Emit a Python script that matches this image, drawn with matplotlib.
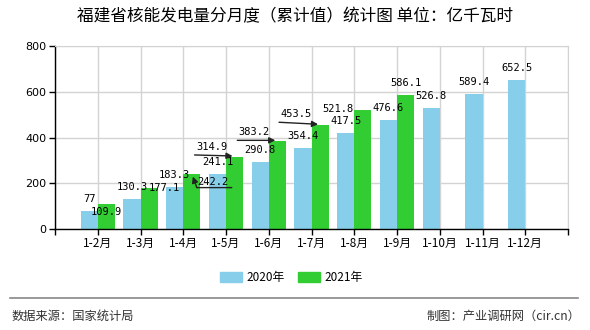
import matplotlib
matplotlib.use("Agg")
import matplotlib.pyplot as plt
from matplotlib.transforms import offset_copy
from matplotlib.patches import Rectangle
from matplotlib.lines import Line2D

plt.rcParams['font.family'] = ['Noto Sans CJK SC', 'DejaVu Sans']

categories = ["1-2月", "1-3月", "1-4月", "1-5月", "1-6月", "1-7月",
              "1-8月", "1-9月", "1-10月", "1-11月", "1-12月"]
values_2020 = [77, 130.3, 183.3, 241.1, 290.8, 354.4, 417.5, 476.6, 526.8, 589.4, 652.5]
values_2021 = [109.9, 177.1, 242.2, 314.9, 383.2, 453.5, 521.8, 586.1]
series_names = ["2020年", "2021年"]
y_ticks = [0, 200, 400, 600, 800]

c2020 = "#87CEEB"
c2021 = "#32CD32"

fig = plt.figure(figsize=(5.9, 3.3), dpi=100)
ax = fig.add_axes([55 / 590, 1 - 229 / 330, (568 - 55) / 590, (229 - 46) / 330])

pos20 = list(range(1, len(values_2020) + 1))
pos21 = list(range(1, len(values_2021) + 1))
w = 0.4
# 2020 on the left half, 2021 on the right half of each tick
ax.bar([p - w for p in pos20], values_2020, width=w, align='edge', color=c2020, zorder=2)
ax.bar(pos21, values_2021, width=w, align='edge', color=c2021, zorder=2)

ax.set_xlim(0, 12)
ax.set_ylim(0, 800)
ax.set_yticks(y_ticks)
ax.set_yticklabels([str(v) for v in y_ticks], fontsize=8, family='DejaVu Sans')
ax.set_xticks(range(0, 13))
ax.set_xticklabels([""] + categories + [""], fontsize=8.5)
ax.grid(True, color="#d3d3d3", lw=1, zorder=0)
ax.set_axisbelow(True)
for s in ["top", "right"]:
    ax.spines[s].set_color("#d3d3d3")
for s in ["left", "bottom"]:
    ax.spines[s].set_color("black")
    ax.spines[s].set_linewidth(1)
ax.tick_params(axis='both', length=4, width=1, color='black', pad=2)

numfont = dict(family='DejaVu Sans Mono', fontsize=7.5, color='black')

def fmt(v):
    return ("%g" % v)

def place(x, y, dx, dy, txt):
    t = offset_copy(ax.transData, fig=fig, x=dx, y=dy, units='dots')
    ax.text(x, y, txt, transform=t, ha='center', va='center', zorder=5, **numfont)

def seg(x, y, p0, p1, arrow=False):
    t0 = offset_copy(ax.transData, fig=fig, x=p0[0], y=p0[1], units='dots')
    t1 = offset_copy(ax.transData, fig=fig, x=p1[0], y=p1[1], units='dots')
    ax.annotate('', xy=(x, y), xycoords=t1, xytext=(x, y), textcoords=t0,
                arrowprops=dict(arrowstyle='-|>' if arrow else '-', color='#222222',
                                lw=1.0, shrinkA=0, shrinkB=0, mutation_scale=9),
                zorder=6)

# 2020 labels: above blue bars
for p, v in zip(pos20, values_2020):
    place(p - w / 2, v, 0, 12, fmt(v))

# 2021 labels: pixel offsets as drawn in the reference (layout only)
offsets21 = {0: (0, -8), 1: (15, 0), 2: (21, -8), 3: (-23, 10),
             4: (-23, 9), 5: (-24, 11), 6: (-25, 1), 7: (0, 12)}
for i, (p, v) in enumerate(zip(pos21, values_2021)):
    dx, dy = offsets21[i]
    xc = p + w / 2
    place(xc, v, dx, dy, fmt(v))
    if i == 2:
        seg(xc, v, (40, -14), (5, -14))
        seg(xc, v, (5, -14), (1, -3), arrow=True)
    elif i in (3, 4, 5):
        seg(xc, v, (dx - 17, dy - 8), (-2, 1), arrow=True)

# title
fig.text(295 / 590, 1 - 17 / 330, "福建省核能发电量分月度（累计值）统计图 单位：亿千瓦时",
         ha='center', va='center', fontsize=12, color='black')

# legend
for (x0, name, col) in [(220, series_names[0], c2020), (298, series_names[1], c2021)]:
    fig.patches.append(Rectangle((x0 / 590, 1 - 282 / 330), 22 / 590, 10 / 330,
                                 transform=fig.transFigure, color=col))
    fig.text((x0 + 26) / 590, 1 - 277 / 330, name, ha='left', va='center',
             fontsize=8.5, color='black')

# footer
fig.lines.append(Line2D([10 / 590, 578 / 590], [1 - 298 / 330, 1 - 298 / 330],
                        transform=fig.transFigure, color='#888888', lw=1.2))
fig.text(12 / 590, 1 - 316 / 330, "数据来源：国家统计局", ha='left', va='center',
         fontsize=8.8, color='#333333')
fig.text(580 / 590, 1 - 316 / 330, "制图：产业调研网（cir.cn）", ha='right', va='center',
         fontsize=8.8, color='#333333')

fig.savefig("out.png", dpi=100)
